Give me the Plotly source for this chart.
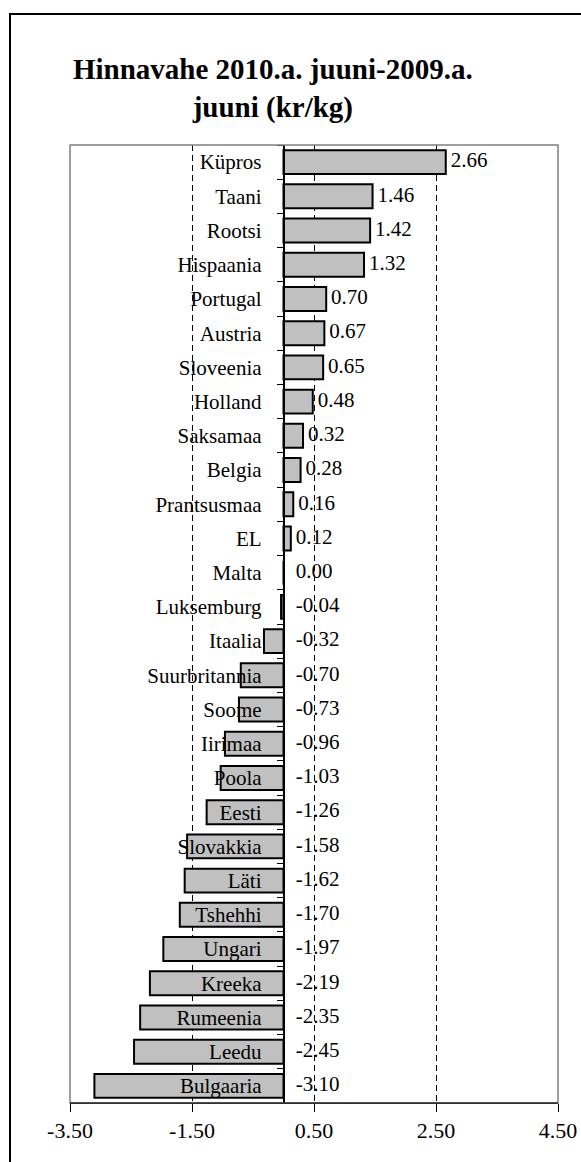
import plotly.graph_objects as go

countries = ["Küpros", "Taani", "Rootsi", "Hispaania", "Portugal", "Austria", "Sloveenia",
             "Holland", "Saksamaa", "Belgia", "Prantsusmaa", "EL", "Malta", "Luksemburg",
             "Itaalia", "Suurbritannia", "Soome", "Iirimaa", "Poola", "Eesti", "Slovakkia",
             "Läti", "Tshehhi", "Ungari", "Kreeka", "Rumeenia", "Leedu", "Bulgaaria"]
values = [2.66, 1.46, 1.42, 1.32, 0.70, 0.67, 0.65, 0.48, 0.32, 0.28, 0.16, 0.12, 0.00, -0.04,
          -0.32, -0.70, -0.73, -0.96, -1.03, -1.26, -1.58, -1.62, -1.70, -1.97, -2.19, -2.35,
          -2.45, -3.10]
x_ticks = [-3.5, -1.5, 0.5, 2.5, 4.5]
title_text = "Hinnavahe 2010.a. juuni-2009.a.<br>juuni (kr/kg)"

FONT = "Liberation Serif"
x_min, x_max = x_ticks[0], x_ticks[-1]

# figure geometry (body margin removed below, so figure == page)
W, H = 581, 1162
L, T = 70, 145
R = W - 558
B = H - 1103
PW, PH = W - L - R, H - T - B

def px(xf):
    return (xf - L) / PW

def py(yf):
    return (H - B - yf) / PH

fig = go.Figure()
fig.add_trace(go.Bar(
    x=values, y=countries, orientation="h",
    marker=dict(color="#c0c0c0", line=dict(color="black", width=2)),
    hoverinfo="x+y", showlegend=False,
))

label_x = [v + 0.08 if v > 0 else 0.2 for v in values]
fig.add_trace(go.Scatter(
    x=label_x, y=countries, mode="text",
    text=[f"{v:.2f}" for v in values], textposition="middle right",
    textfont=dict(family=FONT, size=21, color="black"),
    showlegend=False, hoverinfo="skip", cliponaxis=False,
))

fig.update_layout(
    width=W, height=H,
    margin=dict(l=L, r=R, t=T, b=B, autoexpand=False),
    paper_bgcolor="white", plot_bgcolor="white",
    bargap=0.3,
    font=dict(family=FONT, size=21, color="black"),
    annotations=[dict(
        text="<b>" + title_text + "</b>", xref="paper", yref="paper",
        x=px(273), y=py(88), xanchor="center", yanchor="middle",
        showarrow=False, font=dict(family=FONT, size=29, color="black"),
    )],
)

fig.update_xaxes(
    range=[x_min, x_max], tickvals=x_ticks, ticktext=[f"{t:.2f}" for t in x_ticks],
    showgrid=True, gridcolor="black", griddash="6px,4px", gridwidth=1,
    zeroline=False, showline=True, linecolor="black", linewidth=1,
    ticks="outside", ticklen=8, tickcolor="black", tickwidth=1,
    tickfont=dict(family=FONT, size=22), fixedrange=True,
    ticklabeloverflow="allow", automargin=False,
)
fig.update_yaxes(
    categoryorder="array", categoryarray=countries[::-1],
    range=[-0.5, len(countries) - 0.5], autorange=False,
    anchor="free", position=(0 - x_min) / (x_max - x_min),
    showline=True, linecolor="black", linewidth=1.5,
    ticks="outside", tickson="boundaries", ticklen=6, tickcolor="black",
    showgrid=False, zeroline=False, ticklabelstandoff=17,
    tickfont=dict(family=FONT, size=21), fixedrange=True, automargin=False,
)

# plot-area border (gray) and outer chart border (black)
fig.add_shape(type="rect", xref="paper", yref="paper", x0=0, y0=0, x1=1, y1=1,
              line=dict(color="#808080", width=1.5), layer="above")
fig.add_shape(type="rect", xref="paper", yref="paper",
              x0=px(10), y0=-0.2, x1=1.2, y1=py(14),
              line=dict(color="black", width=2), layer="above")
fig.add_shape(type="line", xref="paper", yref="paper", x0=0, y0=0, x1=1, y1=0,
              line=dict(color="black", width=1), layer="above")

fig.write_html("out.html", config={"displayModeBar": False},
               post_script="document.body.style.margin='0';document.body.style.overflow='hidden';")
